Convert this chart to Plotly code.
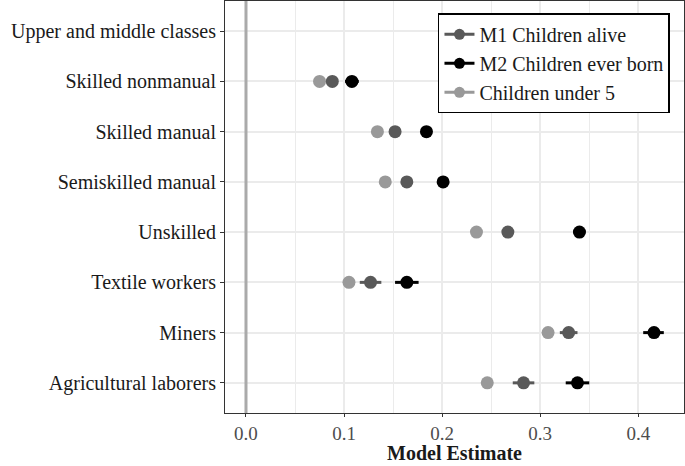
import plotly.graph_objects as go

categories = ["Upper and middle classes", "Skilled nonmanual", "Skilled manual",
              "Semiskilled manual", "Unskilled", "Textile workers", "Miners",
              "Agricultural laborers"]

m1_est = [None, 0.088, 0.152, 0.164, 0.267, 0.127, 0.329, 0.283]
m1_lo = [None, 0.083, 0.148, 0.160, 0.262, 0.116, 0.320, 0.272]
m1_hi = [None, 0.093, 0.156, 0.168, 0.272, 0.138, 0.338, 0.294]

m2_est = [None, 0.108, 0.184, 0.201, 0.340, 0.164, 0.416, 0.338]
m2_lo = [None, 0.101, 0.179, 0.195, 0.334, 0.152, 0.405, 0.326]
m2_hi = [None, 0.115, 0.189, 0.207, 0.346, 0.176, 0.426, 0.350]

u5_est = [None, 0.075, 0.134, 0.142, 0.235, 0.105, 0.308, 0.246]
u5_lo = [None, 0.072, 0.131, 0.139, 0.232, 0.102, 0.305, 0.243]
u5_hi = [None, 0.078, 0.137, 0.145, 0.238, 0.108, 0.311, 0.249]

x_ticks = [0.0, 0.1, 0.2, 0.3, 0.4]
x_tick_labels = ["0.0", "0.1", "0.2", "0.3", "0.4"]

series = [
    ("Children under 5", u5_est, u5_lo, u5_hi, "#999999"),
    ("M1 Children alive", m1_est, m1_lo, m1_hi, "#595959"),
    ("M2 Children ever born", m2_est, m2_lo, m2_hi, "#000000"),
]
legend_order = ["M1 Children alive", "M2 Children ever born", "Children under 5"]

FONT = "Liberation Serif"
FS = 20

fig = go.Figure()

for name, est, lo, hi, col in series:
    plus = [None if e is None else h - e for e, h in zip(est, hi)]
    minus = [None if e is None else e - l for e, l in zip(est, lo)]
    fig.add_trace(go.Scatter(
        x=est, y=categories, mode="markers", name=name, showlegend=False,
        marker=dict(color=col, size=13),
        error_x=dict(type="data", symmetric=False, array=plus, arrayminus=minus,
                     color=col, thickness=3, width=0),
    ))

colmap = {s[0]: s[4] for s in series}
for name in legend_order:
    fig.add_trace(go.Scatter(
        x=[None], y=[None], mode="lines+markers", name=name,
        line=dict(color=colmap[name], width=3),
        marker=dict(color=colmap[name], size=11),
    ))

fig.add_shape(type="line", xref="x", yref="paper", x0=0, x1=0, y0=0, y1=1,
              line=dict(color="#aaaaaa", width=3), layer="above")

fig.add_annotation(text="<b>Model Estimate</b>", xref="paper", yref="paper",
                   x=0.5, y=-(465.5 - 413) / 412, xanchor="center", yanchor="bottom",
                   showarrow=False, borderpad=0,
                   font=dict(family=FONT, size=20, color="#1a1a1a"))

fig.update_layout(
    width=685, height=466,
    margin=dict(l=225, r=1, t=1, b=53, autoexpand=False),
    paper_bgcolor="white", plot_bgcolor="white",
    font=dict(family=FONT, size=FS, color="#1a1a1a"),
    showlegend=True,
    legend=dict(x=0.464, y=0.97, xanchor="left", yanchor="top",
                bgcolor="white", bordercolor="black", borderwidth=1.5,
                font=dict(family=FONT, size=FS, color="#1a1a1a"),
                tracegroupgap=0, itemwidth=30),
    xaxis=dict(
        range=[-0.0214, 0.4466], tickmode="array",
        tickvals=x_ticks, ticktext=x_tick_labels,
        showgrid=True, gridcolor="#ebebeb", gridwidth=2,
        minor=dict(tickvals=[0.05, 0.15, 0.25, 0.35], showgrid=True,
                   gridcolor="#ebebeb", gridwidth=1, ticks=""),
        zeroline=False, showline=True, mirror=True, linecolor="#333333", linewidth=1,
        ticks="outside", ticklen=3, tickcolor="#333333", automargin=False,
        tickfont=dict(family=FONT, size=19, color="#4d4d4d"),
    ),
    yaxis=dict(
        type="category", categoryorder="array", categoryarray=categories[::-1],
        range=[-0.6, 7.6],
        showgrid=True, gridcolor="#ebebeb", gridwidth=2,
        zeroline=False, showline=True, mirror=True, linecolor="#333333", linewidth=1,
        ticks="outside", ticklen=4, tickcolor="#333333", automargin=False,
        tickfont=dict(family=FONT, size=FS, color="#1a1a1a"),
    ),
)

fig.write_html("out.html", config={"displayModeBar": False},
               post_script="document.body.style.margin='0';")
